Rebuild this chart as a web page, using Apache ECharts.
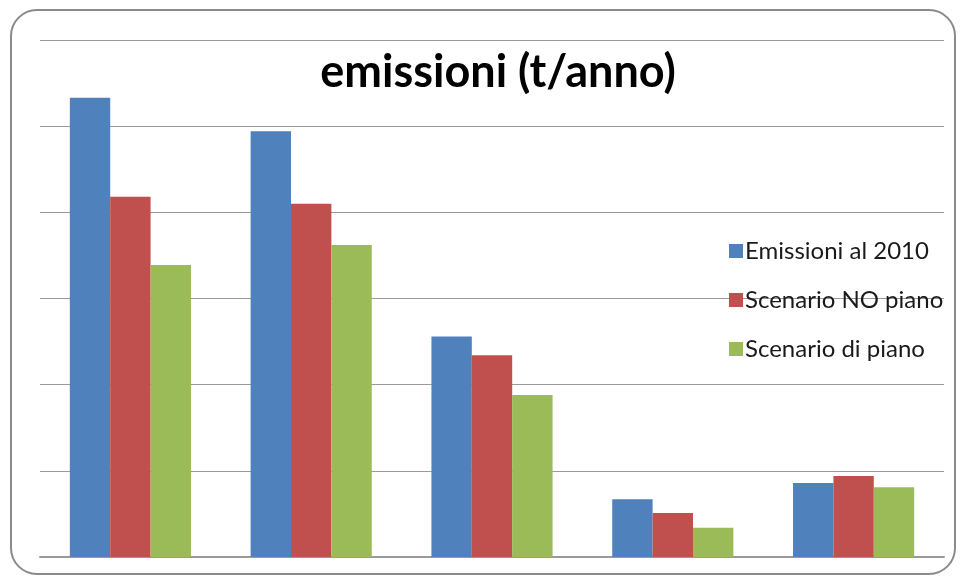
<!DOCTYPE html>
<html>
<head>
<meta charset="utf-8">
<script src="https://cdn.jsdelivr.net/npm/echarts@6/dist/echarts.min.js"></script>
<style>
  html, body { margin: 0; padding: 0; background: #ffffff; }
  #chart { width: 964px; height: 578px; }
</style>
</head>
<body>
<div id="chart"></div>
<script>
// Categories carry no visible labels in the chart
var categories = ['A', 'B', 'C', 'D', 'E'];

var emissioni2010 = [53.3, 49.4, 25.6, 6.7, 8.6];
var scenarioNoPiano = [41.8, 41.0, 23.4, 5.1, 9.4];
var scenarioDiPiano = [33.9, 36.2, 18.8, 3.4, 8.1];

var seriesNames = ['Emissioni al 2010', 'Scenario NO piano', 'Scenario di piano'];

var chart = echarts.init(document.getElementById('chart'), null, { renderer: 'canvas' });

var font = 'Lato, "Open Sans", "DejaVu Sans", sans-serif';

chart.setOption({
  animation: false,
  color: ['#4f81bd', '#c0504d', '#9bbb59'],
  title: {
    text: 'emissioni (t/anno)',
    left: 493,
    textAlign: 'center',
    top: 45,
    textStyle: { fontFamily: font, fontWeight: 'bold', fontSize: 45, lineHeight: 45, color: '#000000' }
  },
  graphic: [{
    type: 'rect',
    shape: { x: 11, y: 10, width: 944, height: 564, r: 26 },
    style: { fill: 'none', stroke: '#8a8a8a', lineWidth: 2 },
    silent: true,
    z: -1
  }],
  legend: {
    orient: 'vertical',
    left: 724,
    top: 234,
    itemWidth: 14,
    itemHeight: 14,
    itemGap: 25,
    icon: 'rect',
    data: seriesNames,
    textStyle: { fontFamily: font, fontSize: 24, lineHeight: 24, color: '#1a1a1a', padding: [0, 0, 0, -3] }
  },
  grid: { left: 40, right: 20, top: 40, bottom: 21, containLabel: false },
  xAxis: {
    type: 'category',
    data: categories,
    axisLine: { show: true, lineStyle: { color: '#9a9a9a', width: 2 } },
    axisTick: { show: false },
    axisLabel: { show: false }
  },
  yAxis: {
    type: 'value',
    min: 0,
    max: 60,
    interval: 10,
    axisLine: { show: false },
    axisTick: { show: false },
    axisLabel: { show: false },
    splitLine: { lineStyle: { color: '#9a9a9a', width: 1 } }
  },
  series: [
    { name: seriesNames[0], type: 'bar', data: emissioni2010, barGap: '0%', barCategoryGap: '33%' },
    { name: seriesNames[1], type: 'bar', data: scenarioNoPiano, barGap: '0%', barCategoryGap: '33%' },
    { name: seriesNames[2], type: 'bar', data: scenarioDiPiano, barGap: '0%', barCategoryGap: '33%' }
  ]
});
</script>
</body>
</html>
